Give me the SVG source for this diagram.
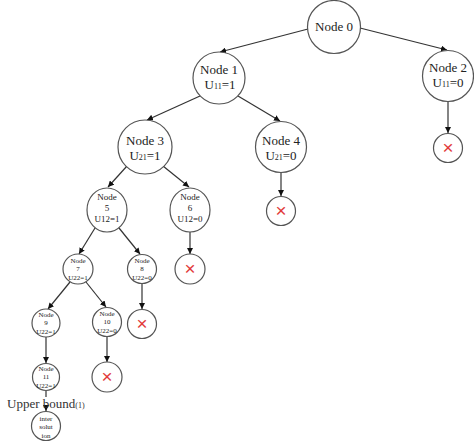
<svg xmlns="http://www.w3.org/2000/svg" width="474" height="445" viewBox="0 0 474 445">
<style>
.n{fill:#fff;stroke:#555;stroke-width:1.2}
.t{font-family:"Liberation Serif","Noto Sans CJK SC",serif;fill:#222;text-anchor:middle}
.b{font-size:13px}
.m{font-size:9px}
.s{font-size:7px}
.x{font-family:"Liberation Sans",sans-serif;font-size:19px;fill:#e23b3b;text-anchor:middle}
.e{stroke:#333;stroke-width:1.2;fill:none;marker-end:url(#a)}
</style>
<defs>
<marker id="a" viewBox="0 0 6 6" refX="6" refY="3" markerWidth="6" markerHeight="6" markerUnits="userSpaceOnUse" orient="auto">
<path d="M0,0 L6,3 L0,6 z" fill="#111"/>
</marker>
</defs>
<rect width="474" height="445" fill="#fff"/>
<g id="connectors">
<line class="e" x1="308" y1="29" x2="220" y2="52"/>
<line class="e" x1="360" y1="28" x2="447" y2="50"/>
<line class="e" x1="200" y1="96" x2="147" y2="120"/>
<line class="e" x1="238" y1="96" x2="280" y2="121"/>
<line class="e" x1="448" y1="102" x2="448" y2="133"/>
<line class="e" x1="281" y1="173" x2="281" y2="196"/>
<line class="e" x1="127" y1="166" x2="108" y2="187"/>
<line class="e" x1="163" y1="166" x2="189" y2="187"/>
<line class="e" x1="95" y1="228" x2="79" y2="254"/>
<line class="e" x1="119" y1="228" x2="140" y2="254"/>
<line class="e" x1="190" y1="232" x2="190" y2="254"/>
<line class="e" x1="70" y1="282" x2="48" y2="309"/>
<line class="e" x1="86" y1="282" x2="106" y2="307"/>
<line class="e" x1="142" y1="284" x2="142" y2="309"/>
<line class="e" x1="46" y1="337" x2="46" y2="363"/>
<line class="e" x1="107" y1="337" x2="107" y2="362"/>
<line x1="46" y1="391" x2="46" y2="397" stroke="#333" stroke-width="1.2"/>
<line class="e" x1="46" y1="408" x2="46" y2="411"/>
</g>
<g id="node0"><circle class="n" cx="334" cy="27" r="26.5"/><text class="t b" x="334" y="31">Node 0</text></g>
<g id="node1"><circle class="n" cx="219" cy="78" r="26"/><text class="t b" x="219" y="74">Node 1</text><text class="t b" x="220" y="89">U<tspan font-size="8">11</tspan>=1</text></g>
<g id="node2"><circle class="n" cx="448" cy="76" r="25.5"/><text class="t b" x="448" y="72">Node 2</text><text class="t b" x="448" y="87">U<tspan font-size="8">11</tspan>=0</text></g>
<g id="node3"><circle class="n" cx="145" cy="147" r="27"/><text class="t b" x="145" y="145">Node 3</text><text class="t b" x="145" y="160">U<tspan font-size="8">21</tspan>=1</text></g>
<g id="node4"><circle class="n" cx="281" cy="147" r="25.5"/><text class="t b" x="281" y="145">Node 4</text><text class="t b" x="281" y="160">U<tspan font-size="8">21</tspan>=0</text></g>
<g id="node5"><ellipse class="n" cx="107" cy="210" rx="20" ry="22"/><text class="t m" x="107" y="200">Node</text><text class="t m" x="107" y="211">5</text><text class="t m" x="107" y="222">U12=1</text></g>
<g id="node6"><ellipse class="n" cx="190" cy="210" rx="20" ry="22"/><text class="t m" x="190" y="200">Node</text><text class="t m" x="190" y="211">6</text><text class="t m" x="190" y="222">U12=0</text></g>
<g id="node7"><circle class="n" cx="78" cy="269" r="15"/><text class="t s" x="78" y="263">Node</text><text class="t s" x="78" y="271">7</text><text class="t s" x="78" y="280">U22=1</text></g>
<g id="node8"><circle class="n" cx="142" cy="269" r="14.5"/><text class="t s" x="142" y="263">Node</text><text class="t s" x="142" y="271">8</text><text class="t s" x="142" y="280">U22=0</text></g>
<g id="node9"><circle class="n" cx="46" cy="323" r="14"/><text class="t s" x="46" y="317">Node</text><text class="t s" x="46" y="325">9</text><text class="t s" x="46" y="334">U22=1</text></g>
<g id="node10"><circle class="n" cx="107" cy="322" r="14.5"/><text class="t s" x="107" y="316">Node</text><text class="t s" x="107" y="324">10</text><text class="t s" x="107" y="333">U22=0</text></g>
<g id="node11"><circle class="n" cx="46" cy="377" r="13.5"/><text class="t s" x="46" y="371">Node</text><text class="t s" x="46" y="379">11</text><text class="t s" x="46" y="388">U22=1</text></g>
<g id="interim"><circle class="n" cx="46" cy="426" r="14.5"/><text class="t s" x="46" y="421">inter</text><text class="t s" x="46" y="429">solut</text><text class="t s" x="46" y="438">ion</text></g>
<g id="upper-bound"><text x="7" y="408" font-family="Liberation Serif,serif" font-size="13" fill="#333">Upper bound<tspan font-size="8">(1)</tspan></text></g>
<g id="x2"><circle class="n" cx="448" cy="148" r="14.5"/><text class="x" x="448" y="154">×</text></g>
<g id="x4"><circle class="n" cx="281" cy="211" r="14.5"/><text class="x" x="281" y="217">×</text></g>
<g id="x6"><circle class="n" cx="190" cy="269" r="15"/><text class="x" x="190" y="275">×</text></g>
<g id="x8"><circle class="n" cx="142" cy="324" r="14.5"/><text class="x" x="142" y="330">×</text></g>
<g id="x10"><circle class="n" cx="107" cy="377" r="15"/><text class="x" x="107" y="383">×</text></g>
</svg>
